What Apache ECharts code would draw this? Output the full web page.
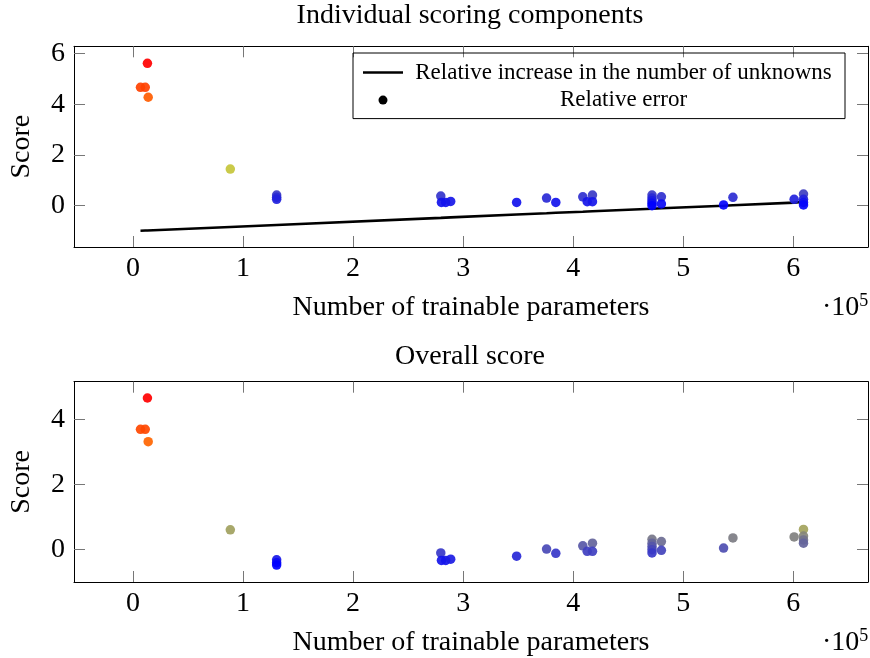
<!DOCTYPE html>
<html>
<head>
<meta charset="utf-8">
<script src="https://cdn.jsdelivr.net/npm/echarts@6/dist/echarts.min.js"></script>
<style>
  html, body { margin: 0; padding: 0; background: #fff; }
  #chart { width: 870px; height: 658px; }
</style>
</head>
<body>
<div id="chart"></div>
<script>
// Trainable parameter counts of the evaluated networks
const params = [
  6900, 11200, 13200, 13900, 88500,
  130600, 130600, 130600,
  279700, 280300, 284200, 288700,
  348600, 375800, 384200,
  408700, 417500, 412700, 417500,
  471600, 471600, 471600, 471600, 471600, 480100, 480100,
  536600, 545100, 600700,
  609200, 609200, 609200, 609200
];
// Relative error of each network
const relErr = [
  4.67, 4.67, 5.62, 4.28, 1.445,
  0.42, 0.33, 0.25,
  0.38, 0.13, 0.13, 0.17,
  0.13, 0.30, 0.13,
  0.35, 0.42, 0.16, 0.16,
  0.42, 0.30, 0.20, 0.10, 0.00, 0.35, 0.07,
  0.03, 0.33, 0.25,
  0.46, 0.25, 0.13, 0.03
];
// Overall score of each network
const overall = [
  3.69, 3.69, 4.65, 3.31, 0.61,
  -0.31, -0.40, -0.47,
  -0.10, -0.33, -0.33, -0.29,
  -0.20, 0.02, -0.11,
  0.12, 0.20, -0.05, -0.05,
  0.32, 0.20, 0.10, 0.00, -0.10, 0.25, -0.02,
  0.05, 0.36, 0.39,
  0.62, 0.42, 0.30, 0.20
];
// Relative increase in the number of unknowns
const lineParams = [
  6900, 11200, 13200, 13900, 88500, 130600,
  279700, 280300, 284200, 288700, 348600, 375800, 384200,
  408700, 412700, 417500, 471600, 480100, 536600, 545100, 600700, 609200
];
const lineIncrease = [
  -0.99, -0.98, -0.98, -0.98, -0.84, -0.76,
  -0.48, -0.48, -0.47, -0.46, -0.35, -0.30, -0.28,
  -0.24, -0.23, -0.22, -0.12, -0.10, 0.00, 0.02, 0.12, 0.16
];
// Tick positions
const xTicks = [0, 100000, 200000, 300000, 400000, 500000, 600000];
const yTicksTop = [0, 2, 4, 6];
const yTicksBottom = [0, 2, 4];

const FONT = 'Liberation Serif';
const FS = 28;
const HOT = ['#0000ff', '#ffff00', '#ff8000', '#ff0000'];
const LINE_NAME = 'Relative increase in the number of unknowns';
const ERR_NAME = 'Relative error';

const chart = echarts.init(document.getElementById('chart'), null, { renderer: 'canvas' });

const zip = (a, b) => a.map((v, i) => [v, b[i]]);

const frameLine = { show: true, onZero: false, lineStyle: { color: '#000', width: 1 } };
const tickStyle = { lineStyle: { color: '#777', width: 1 } };

function xAxisPair(gridIndex) {
  return [
    {
      type: 'value', gridIndex, position: 'bottom', min: -53500, max: 667800,
      axisLine: frameLine,
      axisTick: { show: true, inside: true, length: 11, customValues: xTicks, ...tickStyle },
      axisLabel: {
        show: true, customValues: xTicks, margin: 8,
        formatter: v => String(Math.round(v / 100000)),
        fontFamily: FONT, fontSize: FS, color: '#000'
      },
      splitLine: { show: false },
      name: 'Number of trainable parameters', nameLocation: 'middle', nameGap: 47,
      nameTextStyle: { fontFamily: FONT, fontSize: FS, color: '#000' }
    },
    {
      type: 'value', gridIndex, position: 'top', min: -53500, max: 667800,
      axisLine: frameLine,
      axisTick: { show: true, inside: true, length: 11, customValues: xTicks, ...tickStyle },
      axisLabel: { show: false },
      splitLine: { show: false }
    }
  ];
}

function yAxisPair(gridIndex, min, max, ticks) {
  return [
    {
      type: 'value', gridIndex, position: 'left', min, max,
      axisLine: frameLine,
      axisTick: { show: true, inside: true, length: 11, customValues: ticks, ...tickStyle },
      axisLabel: {
        show: true, customValues: ticks, margin: 9,
        fontFamily: FONT, fontSize: FS, color: '#000'
      },
      splitLine: { show: false },
      name: 'Score', nameLocation: 'middle', nameGap: 38, nameRotate: 90,
      nameTextStyle: { fontFamily: FONT, fontSize: FS, color: '#000' }
    },
    {
      type: 'value', gridIndex, position: 'right', min, max,
      axisLine: frameLine,
      axisTick: { show: true, inside: true, length: 11, customValues: ticks, ...tickStyle },
      axisLabel: { show: false },
      splitLine: { show: false }
    }
  ];
}

const xTop = xAxisPair(0);
const xBot = xAxisPair(1);
const yTop = yAxisPair(0, -1.63, 6.29, yTicksTop);
const yBot = yAxisPair(1, -0.99, 5.15, yTicksBottom);

const scatterStyle = { opacity: 0.92 };

const exponentText = (top) => ({
  type: 'text', left: 822, top,
  style: {
    text: '·10{s|5}', fill: '#000',
    font: FS + 'px "' + FONT + '"',
    rich: { s: { fontFamily: FONT, fontSize: 18, verticalAlign: 'bottom', padding: [0, 0, 13, 0] } }
  }
});

const option = {
  backgroundColor: '#fff',
  animation: false,
  title: [
    {
      text: 'Individual scoring components', left: 470, top: 2, textAlign: 'center',
      padding: 0,
      textStyle: { fontFamily: FONT, fontSize: FS, fontWeight: 'normal', color: '#000' }
    },
    {
      text: 'Overall score', left: 470, top: 343, textAlign: 'center',
      padding: 0,
      textStyle: { fontFamily: FONT, fontSize: FS, fontWeight: 'normal', color: '#000' }
    }
  ],
  grid: [
    { left: 72.7, top: 46.3, width: 795.3, height: 200.7 },
    { left: 72.7, top: 381.7, width: 795.3, height: 200.6 }
  ],
  xAxis: [xTop[0], xBot[0], xTop[1], xBot[1]],
  yAxis: [yTop[0], yBot[0], yTop[1], yBot[1]],
  legend: {
    left: 353, top: 53, orient: 'vertical',
    borderColor: '#000', borderWidth: 1, borderRadius: 0,
    padding: [8, 13, 7, 10], itemGap: 4.6,
    itemWidth: 40, itemHeight: 9,
    data: [
      { name: LINE_NAME, icon: 'path://M0,0H40V2.6H0Z', itemStyle: { color: '#000' } },
      { name: ERR_NAME, icon: 'circle', itemStyle: { color: '#000', opacity: 1 } }
    ],
    formatter: n => '{c|' + n + '}',
    textStyle: {
      fontFamily: FONT, fontSize: 23, color: '#000',
      rich: { c: { width: 417, align: 'center', lineHeight: 22, fontFamily: FONT, fontSize: 23, color: '#000', padding: [0, 0, 0, 7] } }
    }
  },
  visualMap: [
    {
      type: 'continuous', show: false, seriesIndex: 1, dimension: 1,
      min: Math.min(...relErr), max: Math.max(...relErr),
      inRange: { color: HOT }
    },
    {
      type: 'continuous', show: false, seriesIndex: 2, dimension: 1,
      min: Math.min(...overall), max: Math.max(...overall),
      inRange: { color: HOT }
    }
  ],
  graphic: [exponentText(292), exponentText(627)],
  series: [
    {
      name: LINE_NAME, type: 'line', xAxisIndex: 0, yAxisIndex: 0,
      data: zip(lineParams, lineIncrease),
      symbol: 'none', lineStyle: { color: '#000', width: 2.6 }, itemStyle: { color: '#000' },
      z: 2
    },
    {
      name: ERR_NAME, type: 'scatter', xAxisIndex: 0, yAxisIndex: 0,
      data: zip(params, relErr), symbolSize: 9.5, itemStyle: scatterStyle, z: 3
    },
    {
      name: 'Overall score', type: 'scatter', xAxisIndex: 1, yAxisIndex: 1,
      data: zip(params, overall), symbolSize: 9.5, itemStyle: scatterStyle, z: 3
    }
  ]
};

chart.setOption(option);
</script>
</body>
</html>
